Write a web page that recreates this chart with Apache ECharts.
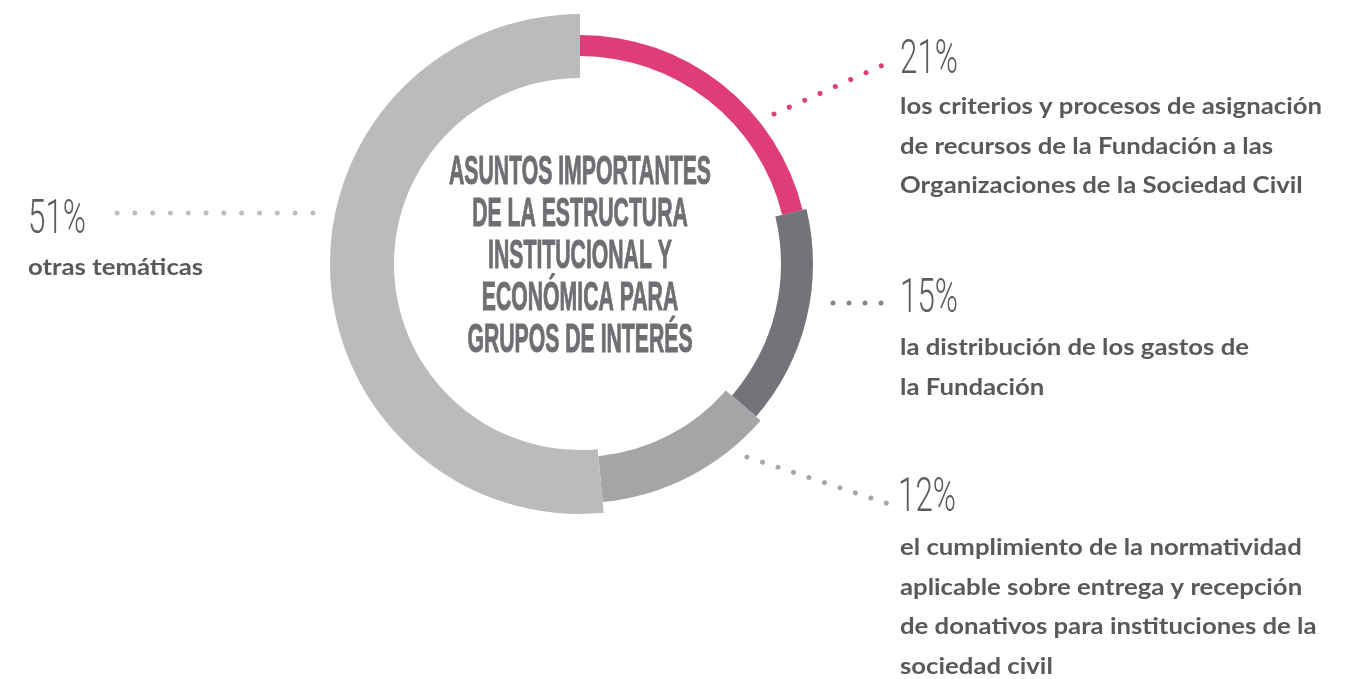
<!DOCTYPE html>
<html>
<head>
<meta charset="utf-8">
<title>Asuntos importantes</title>
<script src="https://cdn.jsdelivr.net/npm/echarts@6/dist/echarts.min.js"></script>
<style>
  html, body { margin: 0; padding: 0; background: #fff; }
  #chart { width: 1370px; height: 679px; }
</style>
</head>
<body>
<div id="chart"></div>
<script>
// datos
var temas = [
  'los criterios y procesos de asignación\nde recursos de la Fundación a las\nOrganizaciones de la Sociedad Civil',
  'la distribución de los gastos de\nla Fundación',
  'el cumplimiento de la normatividad\naplicable sobre entrega y recepción\nde donativos para instituciones de la\nsociedad civil',
  'otras temáticas'
]
var valores = [21, 15, 12, 51]
var etiquetas = ['21%', '15%', '12%', '51%']
var titulo = 'ASUNTOS IMPORTANTES\nDE LA ESTRUCTURA\nINSTITUCIONAL Y\nECONÓMICA PARA\nGRUPOS DE INTERÉS'

// estilos
var colores = ['#e03c7a', '#727479', '#a5a5a7', '#bcbbbc']
var puntos = ['#e03c7a', '#85868a', '#a8a8a8', '#bdbdbd']
var anillos = [[208, 229], [201, 233], [193, 239], [186, 250]]
var centro = [580, 264]

// ancho de un texto (para escalar tipografias angostas / anchas)
function medir(texto, font) {
  var ctx = document.createElement('canvas').getContext('2d')
  ctx.font = font
  var w = 0
  texto.split('\n').forEach(function (l) { w = Math.max(w, ctx.measureText(l).width) })
  return w
}

var fontTitulo = 'bold 41px "Liberation Sans Narrow", "Liberation Sans", sans-serif'
var fontPct = '300 48px Roboto, "Noto Sans", sans-serif'
var fontTxt = 'bold 22px Lato, sans-serif'

var chart = echarts.init(document.getElementById('chart'))

var series = valores.map(function (v, i) {
  return {
    type: 'pie',
    center: centro,
    radius: anillos[i],
    startAngle: 90,
    clockwise: true,
    silent: true,
    animation: false,
    label: { show: false },
    labelLine: { show: false },
    emphasis: { disabled: true },
    data: valores.map(function (val, j) {
      return {
        value: val,
        name: etiquetas[j],
        itemStyle: { color: j === i ? colores[i] : 'rgba(0,0,0,0)' }
      }
    })
  }
})

// posiciones de las anotaciones
var pctPos = [[900, 61], [900, 300], [898, 499], [28, 221]]
var txtPos = [[900, 107], [900, 348], [900, 548], [28, 268]]
var lineas = [
  [[774, 114], [881, 66]],
  [[833, 303], [881, 303]],
  [[747, 457], [886, 503]],
  [[117, 213], [313, 213]]
]
var pasos = [16.8, 16, 16.3, 17.8]

var graficos = []
var sPct = 58 / medir('21%', fontPct)
var sTxt = 422 / medir('los criterios y procesos de asignación', fontTxt)
etiquetas.forEach(function (t, i) {
  graficos.push({
    type: 'text',
    x: pctPos[i][0],
    y: pctPos[i][1],
    scaleX: sPct,
    silent: true,
    style: { text: t, font: fontPct, fill: '#5d5d5f', align: 'left', verticalAlign: 'middle' }
  })
  graficos.push({
    type: 'text',
    x: txtPos[i][0],
    y: txtPos[i][1] - 19.5,
    scaleX: sTxt,
    silent: true,
    style: { text: temas[i], font: fontTxt, fill: '#58595b', lineHeight: 39.5, align: 'left', verticalAlign: 'top' }
  })
  // puntos: se alarga un poco el tramo para que aparezca el ultimo punto
  var a = lineas[i][0], b = lineas[i][1]
  var dx = b[0] - a[0], dy = b[1] - a[1], len = Math.sqrt(dx * dx + dy * dy)
  graficos.push({
    type: 'line',
    silent: true,
    shape: { x1: a[0], y1: a[1], x2: b[0] + dx / len * 3, y2: b[1] + dy / len * 3 },
    style: { stroke: puntos[i], lineWidth: 5, lineCap: 'round', lineDash: [0.01, pasos[i]] }
  })
})

graficos.push({
  type: 'text',
  x: 580,
  y: 257,
  scaleX: 262 / medir(titulo, fontTitulo),
  silent: true,
  style: {
    text: titulo, font: fontTitulo, fill: '#6d6f73', stroke: '#6d6f73', lineWidth: 1,
    lineHeight: 42, align: 'center', verticalAlign: 'middle'
  }
})

chart.setOption({
  backgroundColor: '#ffffff',
  animation: false,
  series: series,
  graphic: { elements: graficos }
})
</script>
</body>
</html>
